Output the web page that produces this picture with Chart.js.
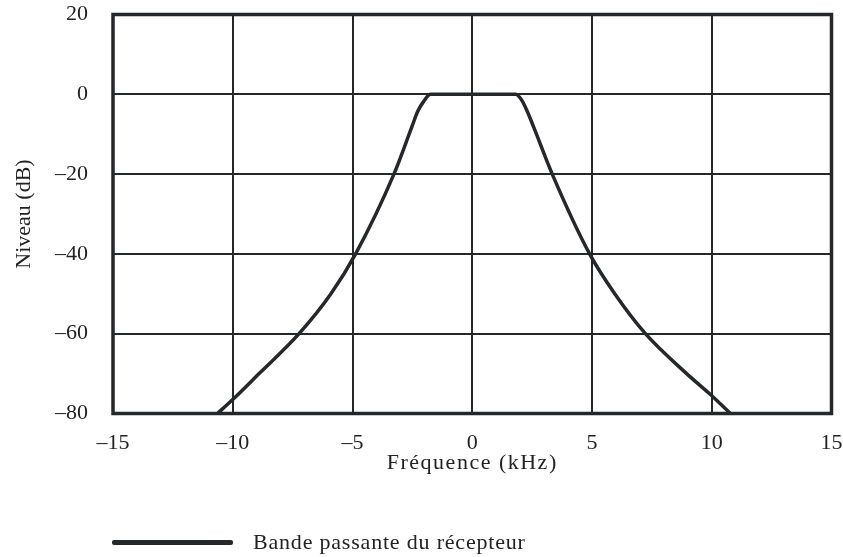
<!DOCTYPE html>
<html>
<head>
<meta charset="utf-8">
<script src="https://cdn.jsdelivr.net/npm/chart.js@4/dist/chart.umd.min.js"></script>
<style>
  html, body { margin: 0; padding: 0; background: #ffffff; }
  #wrap { position: relative; width: 843px; height: 557px; }
  #legend { position: absolute; left: 112px; top: 526px; height: 32px; display: flex; align-items: center;
            font-family: "Liberation Serif", "DejaVu Serif", serif; font-size: 22px; color: #222;
            letter-spacing: 0.8px; }
  #legend .swatch { width: 121px; height: 5px; background: #25272a; border-radius: 2px; margin-right: 20px; }
</style>
</head>
<body>
<div id="wrap">
  <canvas id="c" width="843" height="557"></canvas>
  <div id="legend"><span class="swatch"></span><span id="legendText"></span></div>
</div>
<script>
// ---- data ----
const seriesName = "Bande passante du récepteur";
const freqKHz = [-10.64, -10.0, -8.9, -7.23, -5.9, -4.87, -3.27, -2.53, -2.27, -2.02, -1.74,
                 1.81, 2.09, 2.29, 2.57, 3.34, 4.90, 5.95, 7.23, 8.95, 9.9, 10.78];
const levelDb = [-80, -76.5, -70, -60, -50, -40, -20, -8.3, -4.2, -1.7, 0,
                 0, -1.7, -4.2, -8.3, -20, -40, -50, -60, -70, -75, -80];
const xTicks = [-15, -10, -5, 0, 5, 10, 15];
const yTicks = [20, 0, -20, -40, -60, -80];
const xTitle = "Fréquence (kHz)";
const yTitle = "Niveau (dB)";

const points = freqKHz.map((f, i) => ({ x: f, y: levelDb[i] }));
const fmt = v => String(v).replace('-', '\u2013');
const FAMILY = '"Liberation Serif", "DejaVu Serif", serif';
const FONT = { family: FAMILY, size: 22 };
const INK = '#25272a';

document.getElementById('legendText').textContent = seriesName;

const noPad = s => { s.paddingTop = 0; s.paddingBottom = 0; s.paddingLeft = 0; s.paddingRight = 0; };

const frame = {
  id: 'frame',
  afterDatasetsDraw(chart) {
    const { ctx, chartArea: a } = chart;
    ctx.save();
    ctx.strokeStyle = INK;
    ctx.lineWidth = 3.5;
    ctx.strokeRect(a.left, a.top, a.right - a.left, a.bottom - a.top);
    ctx.restore();
  },
  afterDraw(chart) {
    const { ctx, chartArea: a } = chart;
    ctx.save();
    ctx.font = '22px ' + FAMILY;
    ctx.fillStyle = '#222';
    ctx.textAlign = 'center';
    ctx.textBaseline = 'middle';
    try { ctx.letterSpacing = '1.5px'; } catch (e) {}
    ctx.fillText(xTitle, (a.left + a.right) / 2, a.bottom + 50);
    ctx.restore();
  }
};

new Chart(document.getElementById('c'), {
  type: 'line',
  data: {
    datasets: [{
      label: seriesName,
      data: points,
      borderColor: INK,
      borderWidth: 3.5,
      pointRadius: 0,
      fill: false,
      cubicInterpolationMode: 'monotone'
    }]
  },
  options: {
    responsive: false,
    animation: false,
    devicePixelRatio: 1,
    layout: { autoPadding: false, padding: { left: 0, top: 14.5, right: 11.5, bottom: 83 } },
    plugins: { legend: { display: false }, tooltip: { enabled: false } },
    scales: {
      x: {
        type: 'linear', min: -15, max: 15,
        afterBuildTicks: s => { s.ticks = xTicks.map(v => ({ value: v })); },
        afterFit: s => { s.height = 60.5; noPad(s); },
        grid: { color: INK, lineWidth: 2, drawTicks: false },
        border: { display: false },
        ticks: { font: FONT, color: '#222', padding: 17, maxRotation: 0, callback: v => fmt(v) },
        title: { display: false }
      },
      y: {
        type: 'linear', min: -80, max: 20,
        afterBuildTicks: s => { s.ticks = yTicks.map(v => ({ value: v })); },
        afterFit: s => { s.width = 113; noPad(s); },
        grid: { color: INK, lineWidth: 2, drawTicks: false },
        border: { display: false },
        ticks: { font: FONT, color: '#222', padding: 25, callback: v => fmt(v) },
        title: { display: true, text: yTitle, font: FONT, color: '#222', padding: { top: 11, bottom: 0 } }
      }
    }
  },
  plugins: [frame]
});
</script>
</body>
</html>
